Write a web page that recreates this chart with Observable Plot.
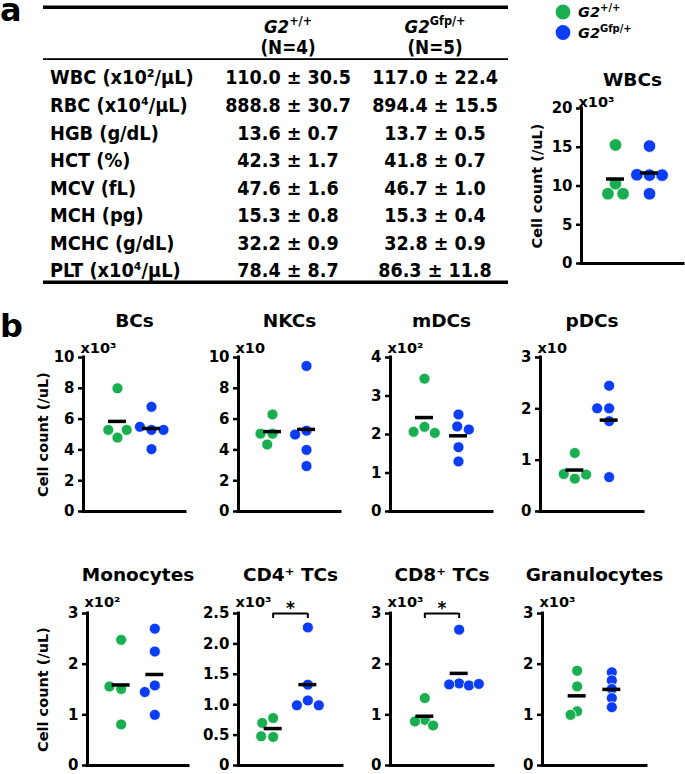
<!DOCTYPE html>
<html><head><meta charset="utf-8">
<script src="https://cdn.jsdelivr.net/npm/d3@7"></script>
<script src="https://cdn.jsdelivr.net/npm/@observablehq/plot@0.6"></script>
<style>
html,body{margin:0;padding:0;background:#fff;}
#root{position:relative;width:685px;height:774px;overflow:hidden;background:#fff;}
#root svg{position:absolute;}
.cond{font-family:"DejaVu Sans Condensed","DejaVu Sans",sans-serif;font-stretch:condensed;font-weight:bold;}
.bold{font-family:"DejaVu Sans",sans-serif;font-weight:bold;}
</style></head><body><div id="root"></div>
<script>
// ---------- data ----------
const groupNames = ["G2", "G2"];
const groupSups = ["+/+", "Gfp/+"];
const groupColors = ["#19ae4f", "#0b3cf6"];
const groupN = ["(N=4)", "(N=5)"];

// table (panel a)
const tableParams = ["WBC (x10²/µL)", "RBC (x10⁴/µL)", "HGB (g/dL)", "HCT (%)", "MCV (fL)", "MCH (pg)", "MCHC (g/dL)", "PLT (x10⁴/µL)"];
const wtMean = [110.0, 888.8, 13.6, 42.3, 47.6, 15.3, 32.2, 78.4];
const wtSD = [30.5, 30.7, 0.7, 1.7, 1.6, 0.8, 0.9, 8.7];
const hetMean = [117.0, 894.4, 13.7, 41.8, 46.7, 15.3, 32.8, 86.3];
const hetSD = [22.4, 15.5, 0.5, 0.7, 1.0, 0.4, 0.9, 11.8];

// dot panels
const panelNames = ["WBCs", "BCs", "NKCs", "mDCs", "pDCs", "Monocytes", "CD4⁺ TCs", "CD8⁺ TCs", "Granulocytes"];
const panelMultipliers = ["x10³", "x10³", "x10", "x10²", "x10", "x10²", "x10³", "x10³", "x10³"];
const panelYMax = [20, 10, 10, 4, 3, 3, 2.5, 3, 3];
const panelYTicks = [
  [0, 5, 10, 15, 20], [0, 2, 4, 6, 8, 10], [0, 2, 4, 6, 8, 10], [0, 1, 2, 3, 4], [0, 1, 2, 3],
  [0, 1, 2, 3], [0, 0.5, 1, 1.5, 2, 2.5], [0, 1, 2, 3], [0, 1, 2, 3]
];
const panelTickDecimals = [0, 0, 0, 0, 0, 0, 1, 0, 0];
const wtValues = [
  [15.3, 10.3, 9.0, 9.0],
  [8.0, 4.8, 5.3, 5.3],
  [6.3, 5.05, 5.05, 4.35],
  [3.45, 2.2, 2.07, 2.04],
  [1.14, 0.64, 0.73, 0.72],
  [2.48, 1.51, 1.56, 0.81],
  [0.78, 0.70, 0.47, 0.48],
  [1.33, 0.90, 0.87, 0.79],
  [1.87, 1.56, 1.07, 1.00]
];
const hetValues = [
  [15.15, 11.4, 11.45, 11.4, 9.0],
  [6.8, 5.3, 5.5, 5.3, 4.05],
  [9.45, 5.25, 5.0, 4.0, 2.95],
  [2.52, 2.21, 2.13, 1.67, 1.30],
  [2.45, 2.01, 2.01, 1.76, 0.67],
  [2.70, 2.25, 1.58, 1.45, 1.0],
  [2.27, 1.33, 1.07, 0.99, 0.99],
  [2.68, 1.62, 1.60, 1.58, 1.61],
  [1.84, 1.68, 1.51, 1.33, 1.15]
];
const significant = [false, false, false, false, false, false, true, true, false];
const yAxisLabel = "Cell count (/uL)";

// ---------- layout (pixel geometry only) ----------
const layout = [
  {left: 581, top: 108, w: 102, h: 155, r: 6.3, pad: 0, titleDy: -28, multDy: -6, ylab: -44},
  {left: 83, top: 357, w: 102, h: 154, r: 5.5, pad: 1, titleDy: -36, multDy: -9, ylab: -40},
  {left: 238, top: 357, w: 102, h: 154, r: 5.5, pad: 1, titleDy: -36, multDy: -9, ylab: null},
  {left: 390, top: 357, w: 102, h: 154, r: 5.5, pad: 1, titleDy: -36, multDy: -9, ylab: null},
  {left: 540, top: 357, w: 103, h: 154, r: 5.5, pad: 1, titleDy: -36, multDy: -9, ylab: null},
  {left: 87, top: 613, w: 101, h: 152, r: 5.5, pad: 1, titleDy: -38, multDy: -11, ylab: -44},
  {left: 238, top: 613, w: 104, h: 152, r: 5.5, pad: 1, titleDy: -38, multDy: -11, ylab: null},
  {left: 390, top: 613, w: 103, h: 152, r: 5.5, pad: -1, titleDy: -38, multDy: -11, ylab: null},
  {left: 542, top: 613, w: 104, h: 152, r: 5.5, pad: -3.5, titleDy: -38, multDy: -11, ylab: null}
];

const root = document.getElementById("root");

// ---------- overlay: table, legend, panel letters ----------
const ov = d3.create("svg").attr("width", 685).attr("height", 774).style("left", "0px").style("top", "0px");
ov.append("text").attr("class", "bold").attr("x", 0).attr("y", 21).attr("font-size", 32).text("a");
ov.append("text").attr("class", "bold").attr("x", 0).attr("y", 337).attr("font-size", 32).text("b");
ov.append("rect").attr("x", 43).attr("y", 5.5).attr("width", 465).attr("height", 3.5);
ov.append("rect").attr("x", 43).attr("y", 58.2).attr("width", 465).attr("height", 1.8);
ov.append("rect").attr("x", 43).attr("y", 280.5).attr("width", 465).attr("height", 3.5);
const colX = [288, 435];
groupNames.forEach((g, j) => {
  const t = ov.append("text").attr("class", "cond").attr("x", colX[j]).attr("y", 26)
    .attr("text-anchor", "middle").attr("dominant-baseline", "central").attr("font-size", 18.5);
  t.append("tspan").attr("font-style", "italic").text(g);
  t.append("tspan").attr("font-size", 12.5).attr("dy", -6).text(groupSups[j]);
  ov.append("text").attr("class", "cond").attr("x", colX[j]).attr("y", 47)
    .attr("text-anchor", "middle").attr("dominant-baseline", "central").attr("font-size", 18.7).text(groupN[j]);
});
const rowY = [77, 105, 133, 160, 188, 215, 243, 270];
tableParams.forEach((p, k) => {
  ov.append("text").attr("class", "cond").attr("x", 50).attr("y", rowY[k])
    .attr("dominant-baseline", "central").attr("font-size", 19.8).text(p);
  ov.append("text").attr("class", "cond").attr("x", colX[0]).attr("y", rowY[k]).attr("text-anchor", "middle")
    .attr("dominant-baseline", "central").attr("font-size", 19.5).text(`${wtMean[k].toFixed(1)} ± ${wtSD[k].toFixed(1)}`);
  ov.append("text").attr("class", "cond").attr("x", colX[1]).attr("y", rowY[k]).attr("text-anchor", "middle")
    .attr("dominant-baseline", "central").attr("font-size", 19.5).text(`${hetMean[k].toFixed(1)} ± ${hetSD[k].toFixed(1)}`);
});
// legend
const legY = [12, 32.5];
groupNames.forEach((g, j) => {
  ov.append("circle").attr("cx", 563).attr("cy", legY[j]).attr("r", 7.4).attr("fill", groupColors[j]);
  const t = ov.append("text").attr("class", "bold").attr("x", 578).attr("y", legY[j])
    .attr("dominant-baseline", "central").attr("font-size", 14.5);
  t.append("tspan").attr("font-style", "italic").text(g);
  t.append("tspan").attr("font-size", 10).attr("dy", -5).text(groupSups[j]);
});
root.appendChild(ov.node());

// ---------- dot panels ----------
function panel(i) {
  const L = layout[i];
  const mL = 60, mT = 50, mR = 8, mB = 9;
  const ymax = panelYMax[i];
  const pxPerUnit = L.w / 3;
  const series = [wtValues[i], hetValues[i]];
  const means = series.map((vals, g) => ({g: g + 1, m: d3.mean(vals)}));
  const half = 9 / pxPerUnit;
  const dec = panelTickDecimals[i];
  const marks = [
    Plot.ruleY([0], {strokeWidth: 3, strokeLinecap: "square"}),
    Plot.ruleX([0], {y1: 0, y2: ymax, strokeWidth: 3, strokeLinecap: "square"}),
    Plot.axisY({ticks: panelYTicks[i], tickFormat: d => d === 0 ? "0" : d.toFixed(dec), tickSize: 5, tickPadding: 4, strokeWidth: 2.5, label: null}),
    ...series.map((vals, g) => Plot.dot(vals.map(v => ({v})), Plot.dodgeX({anchor: "middle", padding: L.pad}, {
      y: "v", r: L.r, fill: groupColors[g], stroke: "white", strokeWidth: 0.8,
      dx: (g + 1 - 1.5) * pxPerUnit
    }))),
    Plot.ruleY(means, {y: "m", x1: d => d.g - half, x2: d => d.g + half, strokeWidth: 3.5}),
    Plot.text([panelNames[i]], {frameAnchor: "top", lineAnchor: "middle", dy: L.titleDy, fontSize: 18.5, text: d => d}),
    Plot.text([panelMultipliers[i]], {frameAnchor: "top-left", lineAnchor: "middle", textAnchor: "start", dx: -3, dy: L.multDy, fontSize: 14.5, text: d => d})
  ];
  if (L.ylab != null) {
    marks.push(Plot.text([yAxisLabel], {frameAnchor: "left", textAnchor: "middle", lineAnchor: "middle", rotate: -90, dx: L.ylab, fontSize: 14.5, text: d => d}));
  }
  if (significant[i]) {
    const drop = 5 / (L.h / ymax);
    marks.push(Plot.ruleY([ymax], {x1: 1, x2: 2, strokeWidth: 2}));
    marks.push(Plot.ruleX([1, 2], {y1: ymax, y2: ymax - drop, strokeWidth: 2}));
    marks.push(Plot.text(["*"], {x: 1.5, y: ymax, dy: -5, fontSize: 17, text: d => d}));
  }
  const svg = Plot.plot({
    width: mL + L.w + mR, height: mT + L.h + mB,
    marginLeft: mL, marginTop: mT, marginRight: mR, marginBottom: mB,
    x: {domain: [0, 3], axis: null},
    y: {domain: [0, ymax], label: null},
    style: {fontFamily: "DejaVu Sans", fontWeight: "bold", fontSize: "15px", background: "none", overflow: "visible", color: "black"},
    marks
  });
  svg.style.position = "absolute";
  svg.style.left = (L.left - mL) + "px";
  svg.style.top = (L.top - mT) + "px";
  svg.style.maxWidth = "none";
  root.appendChild(svg);
}
panelNames.forEach((_, i) => panel(i));
</script></body></html>
